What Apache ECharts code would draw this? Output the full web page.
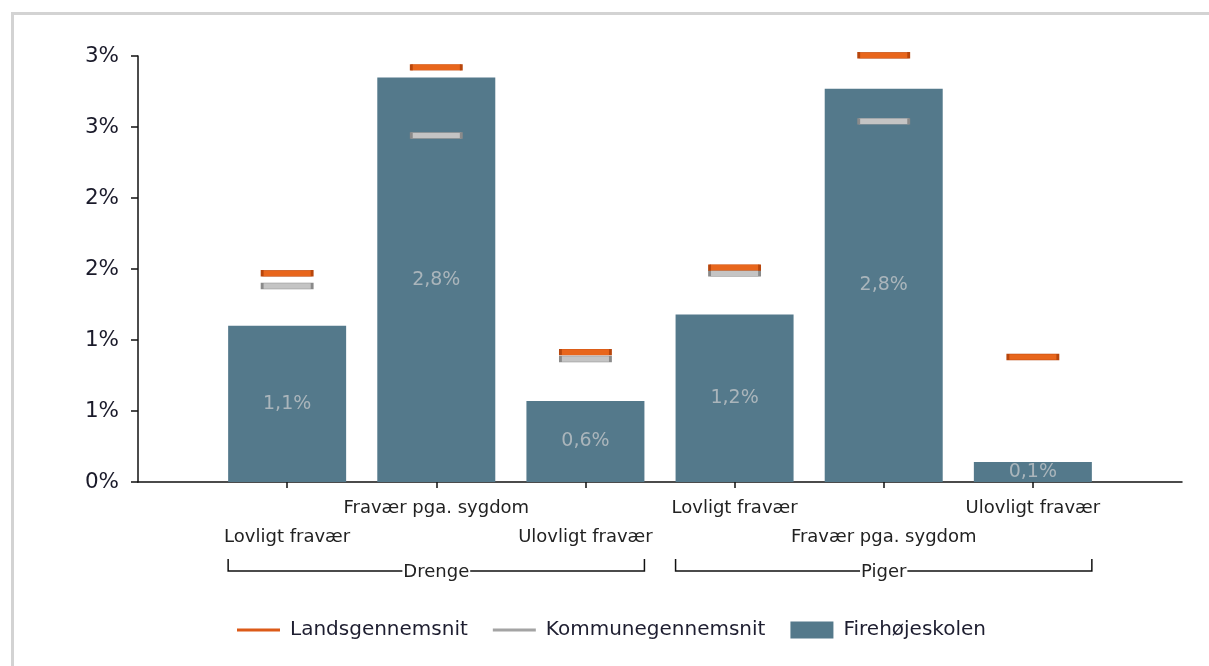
<!DOCTYPE html>
<html>
<head>
<meta charset="utf-8">
<script src="https://cdn.jsdelivr.net/npm/echarts@6/dist/echarts.min.js"></script>
<style>
  html, body { margin: 0; padding: 0; background: #fff; }
  #frame { position: absolute; left: 11px; top: 12px; right: 0; bottom: 0;
           border-left: 3px solid #d3d3d3; border-top: 3px solid #d3d3d3; }
  #chart { position: absolute; left: 0; top: 0; width: 1209px; height: 666px; }
</style>
</head>
<body>
<div id="frame"></div>
<div id="chart"></div>
<script>
// ---- data ----
const categories = ['Lovligt fravær', 'Fravær pga. sygdom', 'Ulovligt fravær',
                    'Lovligt fravær', 'Fravær pga. sygdom', 'Ulovligt fravær'];
const groups = [
  { name: 'Drenge', from: 0, to: 2 },
  { name: 'Piger',  from: 3, to: 5 }
];
const schoolValues  = [1.10, 2.849, 0.57, 1.18, 2.77, 0.14];  // Firehøjeskolen
const nationalAvg   = [1.47, 2.92, 0.915, 1.51, 3.005, 0.88]; // Landsgennemsnit
const municipalAvg  = [1.38, 2.44, 0.866, 1.47, 2.54, null];  // Kommunegennemsnit
const yTicks = { min: 0, max: 3, interval: 0.5 };

// padded category axis: one empty slot at each end
const axisCats = [''].concat(categories, ['']);
const pad = arr => [null].concat(arr, [null]);

const chart = echarts.init(document.getElementById('chart'));
const FONT = 'DejaVu Sans';
const axisY = 482;

chart.setOption({
  animation: false,
  textStyle: { fontFamily: FONT },
  grid: { left: 138, right: 27, top: 56, bottom: 184, containLabel: false },
  legend: {
    left: 237, top: 620, padding: 0,
    itemWidth: 43, itemHeight: 17, itemGap: 25,
    textStyle: { fontSize: 20, color: '#1e1e30', fontFamily: FONT, padding: [0, 0, 0, 5] },
    data: [
      { name: 'Landsgennemsnit', icon: 'path://M0,0H43V3H0Z',
        itemStyle: { color: '#dc5a18', borderWidth: 0 } },
      { name: 'Kommunegennemsnit', icon: 'path://M0,0H43V3H0Z',
        itemStyle: { color: '#a4a4a4', borderWidth: 0 } },
      { name: 'Firehøjeskolen', icon: 'rect' }
    ]
  },
  xAxis: {
    type: 'category',
    data: axisCats,
    boundaryGap: false,
    axisLine: { lineStyle: { color: '#111', width: 1.5 } },
    axisTick: {
      show: true, length: 6, lineStyle: { color: '#111', width: 1.5 },
      interval: (i) => i >= 1 && i <= categories.length
    },
    axisLabel: {
      interval: 0, margin: 12, fontSize: 18, color: '#222', lineHeight: 29,
      fontFamily: FONT,
      formatter: (v, i) => (i % 2 === 1 ? '\n' + v : v)
    },
    splitLine: { show: false }
  },
  yAxis: {
    type: 'value',
    min: yTicks.min, max: yTicks.max, interval: yTicks.interval,
    axisLine: { show: true, lineStyle: { color: '#111', width: 1.5 } },
    axisTick: { show: true, length: 7, lineStyle: { color: '#111', width: 1.5 } },
    splitLine: { show: false },
    axisLabel: {
      margin: 19, fontSize: 21.5, color: '#1a1a2a', fontFamily: FONT,
      formatter: v => Math.round(v) + '%'
    }
  },
  series: [
    {
      name: 'Landsgennemsnit', type: 'scatter', data: pad(nationalAvg),
      symbol: 'rect', symbolSize: [50, 6], clip: false, z: 5,
      itemStyle: { color: '#e8661c', borderColor: '#b8460c', borderWidth: 1, opacity: 1 }
    },
    {
      name: 'Kommunegennemsnit', type: 'scatter', data: pad(municipalAvg),
      symbol: 'rect', symbolSize: [50, 6], clip: false, z: 4,
      itemStyle: { color: '#c4c4c4', borderColor: '#8a8a8a', borderWidth: 1, opacity: 1 }
    },
    {
      name: 'Firehøjeskolen', type: 'bar', data: pad(schoolValues),
      barWidth: 118, z: 2,
      itemStyle: { color: '#54798b' },
      label: {
        show: true, position: 'inside', fontSize: 19, color: '#aab5bb', fontFamily: FONT,
        formatter: p => p.value.toFixed(1).replace('.', ',') + '%'
      }
    }
  ]
});

// group brackets below the category labels
function drawGroups() {
  const elements = [];
  const half = 59;
  const yTop = axisY + 77, yLine = axisY + 89;
  groups.forEach(g => {
    const x1 = chart.convertToPixel({ xAxisIndex: 0 }, g.from + 1) - half;
    const x2 = chart.convertToPixel({ xAxisIndex: 0 }, g.to + 1) + half;
    elements.push({
      type: 'polyline', silent: true,
      shape: { points: [[x1, yTop], [x1, yLine], [x2, yLine], [x2, yTop]] },
      style: { stroke: '#111', lineWidth: 1.5, fill: null }
    });
    elements.push({
      type: 'text', silent: true, z: 10,
      x: (x1 + x2) / 2, y: yLine + 1,
      style: {
        text: g.name, fontSize: 18, fontFamily: FONT, fill: '#222',
        align: 'center', verticalAlign: 'middle',
        backgroundColor: '#fff', padding: [0, 1]
      }
    });
  });
  chart.setOption({ graphic: elements });
}
drawGroups();
</script>
</body>
</html>
